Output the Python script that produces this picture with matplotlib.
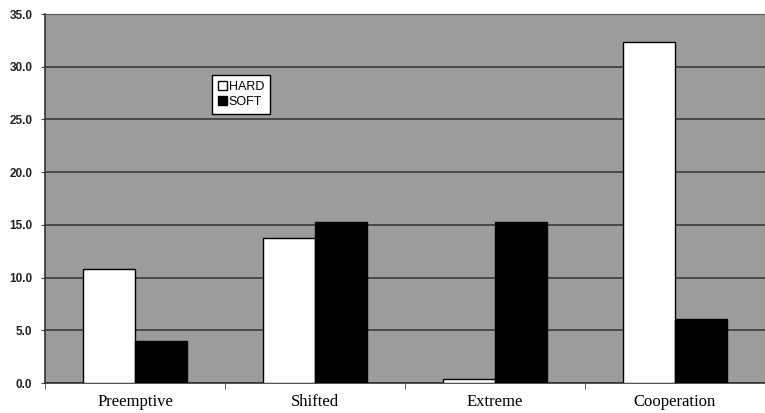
import matplotlib.pyplot as plt
import numpy as np

# Strategy categories and the percentage for each negotiation style
categories = ["Preemptive", "Shifted", "Extreme", "Cooperation"]
hard = [10.8, 13.8, 0.4, 32.3]
soft = [4.0, 15.3, 15.3, 6.1]

fig = plt.figure(figsize=(7.65, 4.13), dpi=100)
ax = fig.add_axes([0.0588, 0.0726, 0.941, 0.8935])
ax.set_facecolor("#9c9c9c")

x = np.arange(len(categories))
w = 0.29
ax.bar(x - w / 2, hard, width=w, color="white", edgecolor="black", linewidth=1.0, label="HARD", zorder=3)
ax.bar(x + w / 2, soft, width=w, color="black", edgecolor="black", linewidth=1.0, label="SOFT", zorder=3)

ax.set_xlim(-0.5, len(categories) - 0.5)
ax.set_ylim(0, 35)
ax.set_yticks(np.arange(0, 35.1, 5))
ax.set_yticklabels([f"{v:.1f}" for v in np.arange(0, 35.1, 5)],
                   fontfamily="Liberation Sans", fontsize=8.5, fontweight="bold", color="#222222")
ax.yaxis.grid(True, color="#3a3a3a", linewidth=1.2, zorder=1)

# category labels in the middle, ticks on the boundaries
ax.set_xticks(x)
ax.set_xticklabels(categories, fontfamily="Liberation Serif", fontsize=12)
ax.tick_params(axis="x", length=0, pad=8)
ax.set_xticks(np.arange(-0.5, len(categories), 1), minor=True)
ax.tick_params(axis="x", which="minor", length=4, direction="out", color="#444444")
ax.tick_params(axis="y", length=3, direction="out", color="#444444", pad=6)

for s in ["left", "bottom"]:
    ax.spines[s].set_color("#333333")
    ax.spines[s].set_linewidth(1.2)
for s in ["top", "right"]:
    ax.spines[s].set_color("#555555")

leg = ax.legend(loc="upper left", bbox_to_anchor=(0.232, 0.835), frameon=True, fancybox=False,
                edgecolor="black", framealpha=1, handlelength=0.75, handleheight=0.75,
                handletextpad=0.15, borderpad=0.45, labelspacing=0.3, borderaxespad=0,
                prop={"family": "Liberation Sans", "size": 9})
leg.get_frame().set_linewidth(1.0)

fig.savefig("out.png", dpi=100)
